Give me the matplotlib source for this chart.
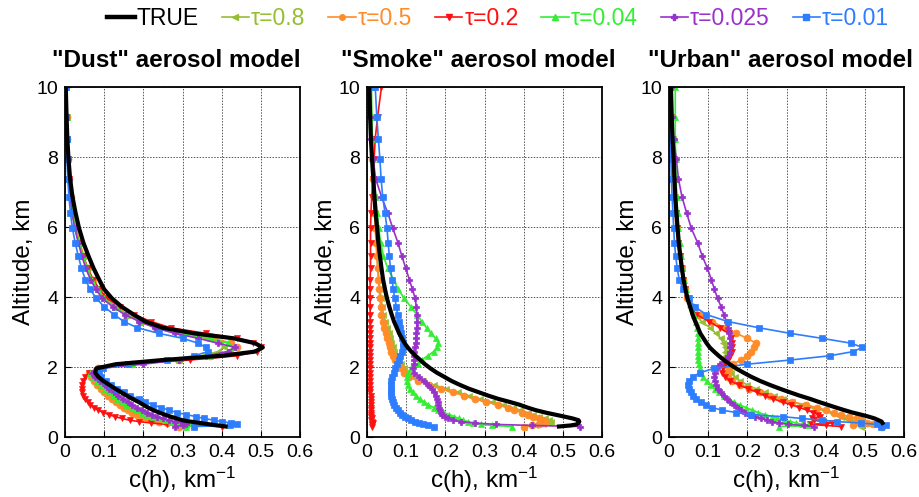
import numpy as np
import matplotlib
matplotlib.use("Agg")
import matplotlib.pyplot as plt
from matplotlib.lines import Line2D

plt.rcParams['font.family'] = ['Liberation Sans', 'DejaVu Sans']
plt.rcParams['mathtext.fontset'] = 'custom'
plt.rcParams['mathtext.rm'] = 'Liberation Sans'
plt.rcParams['mathtext.it'] = 'Liberation Sans'

nan = float('nan')

# altitude grid, km
alt = [0.30, 0.33, 0.36, 0.40, 0.44, 0.48, 0.53, 0.58, 0.64, 0.70,
       0.77, 0.84, 0.92, 1.00, 1.09, 1.18, 1.28, 1.38, 1.49, 1.60,
       1.72, 1.84, 1.96, 2.08, 2.20, 2.32, 2.44, 2.56, 2.68, 2.82,
       2.96, 3.12, 3.30, 3.50, 3.72, 3.96, 4.22, 4.50, 4.82, 5.17,
       5.55, 5.96, 6.40, 6.87, 7.38, 7.93, 8.52, 9.15, 10.0]

# ---------------- Dust ----------------
dust_true = [0.41, 0.39, 0.37, 0.345, 0.32, 0.30, 0.285, 0.27, 0.255, 0.24,
             0.225, 0.212, 0.20, 0.188, 0.172, 0.158, 0.143, 0.128, 0.113, 0.098,
             0.085, 0.077, 0.08, 0.13, 0.25, 0.40, 0.485, 0.505, 0.485, 0.43,
             0.33, 0.25, 0.205, 0.175, 0.145, 0.12, 0.10, 0.087, 0.073, 0.060,
             0.047, 0.036, 0.027, 0.019, 0.013, 0.009, 0.006, 0.004, 0.002]
dust_t08 = [0.30, 0.31, 0.29, 0.27, 0.255, 0.24, 0.225, 0.21, 0.195, 0.183,
            0.17, 0.158, 0.146, 0.136, 0.125, 0.115, 0.105, 0.095, 0.086, 0.077,
            0.068, 0.062, 0.08, 0.16, 0.28, 0.35, 0.39, 0.405, 0.395, 0.36,
            0.29, 0.23, 0.19, 0.155, 0.127, 0.10, 0.083, 0.068, 0.056, 0.046,
            0.036, 0.027, 0.020, 0.014, 0.010, 0.007, 0.005, 0.004, 0.002]
dust_t05 = [0.29, 0.30, 0.28, 0.26, 0.24, 0.225, 0.21, 0.197, 0.184, 0.172,
            0.16, 0.15, 0.14, 0.13, 0.12, 0.11, 0.10, 0.091, 0.082, 0.074,
            0.066, 0.062, 0.085, 0.17, 0.29, 0.37, 0.42, 0.44, 0.425, 0.38,
            0.30, 0.235, 0.195, 0.16, 0.131, 0.104, 0.086, 0.071, 0.058, 0.048,
            0.038, 0.029, 0.021, 0.015, 0.011, 0.008, 0.006, 0.004, 0.002]
dust_t02 = [0.40, 0.30, 0.26, 0.22, 0.19, 0.165, 0.145, 0.128, 0.112, 0.098,
            0.085, 0.074, 0.065, 0.058, 0.052, 0.047, 0.044, 0.043, 0.043, 0.046,
            0.052, 0.062, 0.09, 0.16, 0.32, 0.44, 0.49, 0.50, 0.48, 0.44,
            0.36, 0.27, 0.22, 0.175, 0.14, 0.108, 0.088, 0.072, 0.058, 0.046,
            0.035, 0.026, 0.019, 0.013, 0.009, 0.007, 0.005, 0.003, 0.002]
dust_t004 = [0.31, 0.33, 0.31, 0.29, 0.27, 0.255, 0.24, 0.225, 0.21, 0.196,
             0.182, 0.17, 0.157, 0.146, 0.134, 0.123, 0.112, 0.101, 0.091, 0.081,
             0.071, 0.065, 0.085, 0.17, 0.29, 0.37, 0.415, 0.43, 0.415, 0.37,
             0.295, 0.232, 0.192, 0.157, 0.128, 0.10, 0.083, 0.069, 0.057, 0.046,
             0.036, 0.027, 0.020, 0.014, 0.010, 0.007, 0.005, 0.004, 0.002]
dust_t0025 = [0.28, 0.30, 0.31, 0.30, 0.28, 0.265, 0.25, 0.236, 0.222, 0.21,
              0.196, 0.184, 0.172, 0.16, 0.148, 0.136, 0.124, 0.112, 0.101, 0.089,
              0.077, 0.068, 0.09, 0.20, 0.29, 0.36, 0.415, 0.435, 0.39, 0.34,
              0.28, 0.23, 0.19, 0.152, 0.122, 0.095, 0.079, 0.065, 0.053, 0.043,
              0.034, 0.025, 0.018, 0.013, 0.009, 0.007, 0.005, 0.003, 0.002]
dust_t001 = [0.33, 0.42, 0.44, 0.425, 0.40, 0.38, 0.355, 0.335, 0.31, 0.285,
             0.265, 0.245, 0.225, 0.205, 0.188, 0.165, 0.15, 0.133, 0.117, 0.105,
             0.092, 0.086, 0.098, 0.16, 0.26, 0.33, 0.365, 0.36, 0.34, 0.30,
             0.24, 0.185, 0.15, 0.125, 0.10, 0.08, 0.064, 0.052, 0.042, 0.034,
             0.026, 0.019, 0.014, 0.010, 0.007, 0.005, 0.004, 0.003, 0.002]

# ---------------- Smoke ----------------
smoke_true = [0.49, 0.52, 0.535, 0.54, 0.542, 0.54, 0.525, 0.505, 0.48, 0.455,
              0.43, 0.41, 0.39, 0.365, 0.335, 0.31, 0.285, 0.26, 0.237, 0.216,
              0.197, 0.178, 0.162, 0.148, 0.136, 0.124, 0.113, 0.104, 0.096, 0.089,
              0.082, 0.076, 0.069, 0.063, 0.057, 0.051, 0.046, 0.041, 0.037, 0.033,
              0.029, 0.026, 0.022, 0.019, 0.016, 0.013, 0.010, 0.008, 0.006]
smoke_t08 = [0.40, 0.43, 0.45, 0.465, 0.47, 0.465, 0.455, 0.44, 0.425, 0.41,
             0.39, 0.372, 0.348, 0.318, 0.288, 0.26, 0.232, 0.202, 0.17, 0.142,
             0.118, 0.103, 0.094, 0.087, 0.08, 0.075, 0.07, 0.066, 0.062, 0.058,
             0.055, 0.05, 0.046, 0.042, 0.039, 0.036, 0.033, 0.031, 0.028, 0.026,
             0.024, 0.022, 0.02, 0.018, 0.016, 0.014, 0.013, 0.012, 0.011]
smoke_t05 = [0.40, 0.42, 0.44, 0.45, 0.455, 0.45, 0.44, 0.425, 0.41, 0.395,
             0.375, 0.36, 0.335, 0.305, 0.275, 0.248, 0.22, 0.19, 0.158, 0.13,
             0.108, 0.094, 0.086, 0.079, 0.072, 0.067, 0.062, 0.058, 0.055, 0.051,
             0.048, 0.044, 0.04, 0.037, 0.035, 0.033, 0.031, 0.029, 0.027, 0.025,
             0.023, 0.021, 0.019, 0.017, 0.015, 0.013, 0.012, 0.011, 0.01]
smoke_t02 = [0.012, 0.014, 0.012, 0.015, 0.012, 0.011, 0.012, 0.010, 0.011, 0.010,
             0.010, 0.009, 0.009, 0.009, 0.009, 0.009, 0.008, 0.008, 0.008, 0.008,
             0.008, 0.008, 0.008, 0.008, 0.008, 0.008, 0.008, 0.008, 0.008, 0.008,
             0.008, 0.008, 0.008, 0.008, 0.008, 0.008, 0.008, 0.008, 0.009, 0.009,
             0.009, 0.009, 0.010, 0.012, 0.015, 0.018, 0.021, 0.027, 0.037]
smoke_t004 = [0.37, 0.32, 0.29, 0.27, 0.257, 0.245, 0.234, 0.223, 0.21, 0.196,
              0.182, 0.17, 0.157, 0.146, 0.135, 0.125, 0.117, 0.11, 0.105, 0.102,
              0.101, 0.104, 0.112, 0.13, 0.14, 0.155, 0.17, 0.178, 0.182, 0.175,
              0.163, 0.152, 0.14, 0.127, 0.112, 0.095, 0.08, 0.067, 0.053, 0.042,
              0.035, 0.03, 0.026, 0.022, 0.019, 0.016, 0.014, 0.012, 0.011]
smoke_t0025 = [0.545, 0.42, 0.33, 0.275, 0.24, 0.22, 0.207, 0.198, 0.192, 0.188,
               0.186, 0.184, 0.182, 0.18, 0.178, 0.176, 0.172, 0.165, 0.155, 0.145,
               0.133, 0.12, 0.118, 0.12, 0.12, 0.12, 0.121, 0.122, 0.124, 0.125,
               0.126, 0.127, 0.127, 0.127, 0.126, 0.123, 0.116, 0.108, 0.099, 0.089,
               0.079, 0.066, 0.053, 0.037, 0.022, 0.016, 0.009, 0.007, 0.006]
smoke_t001 = [0.17, 0.155, 0.143, 0.132, 0.122, 0.113, 0.104, 0.097, 0.09, 0.084,
              0.078, 0.073, 0.069, 0.066, 0.063, 0.061, 0.06, 0.06, 0.061, 0.062,
              0.065, 0.068, 0.072, 0.077, 0.081, 0.085, 0.089, 0.091, 0.092, 0.09,
              0.087, 0.084, 0.081, 0.078, 0.075, 0.071, 0.067, 0.064, 0.06, 0.057,
              0.054, 0.051, 0.046, 0.04, 0.036, 0.033, 0.029, 0.025, 0.021]

# ---------------- Urban ----------------
urban_true = [nan, nan, nan, 0.545, 0.543, 0.535, 0.525, 0.51, 0.49, 0.468,
              0.447, 0.427, 0.405, 0.383, 0.36, 0.334, 0.308, 0.283, 0.257, 0.233,
              0.21, 0.19, 0.171, 0.155, 0.14, 0.127, 0.115, 0.104, 0.096, 0.088,
              0.08, 0.074, 0.067, 0.06, 0.054, 0.047, 0.042, 0.037, 0.033, 0.029,
              0.025, 0.022, 0.019, 0.016, 0.014, 0.012, 0.009, 0.007, 0.005]
urban_t08 = [0.49, 0.49, 0.485, 0.478, 0.47, 0.462, 0.45, 0.44, 0.43, 0.417,
             0.395, 0.37, 0.34, 0.315, 0.29, 0.268, 0.245, 0.222, 0.2, 0.182,
             0.168, 0.158, 0.152, 0.148, 0.145, 0.144, 0.144, 0.143, 0.139, 0.132,
             0.12, 0.105, 0.083, 0.066, 0.054, 0.046, 0.041, 0.036, 0.032, 0.028,
             0.024, 0.021, 0.018, 0.016, 0.013, 0.011, 0.009, 0.007, 0.005]
urban_t05 = [0.545, 0.47, 0.52, 0.505, 0.495, 0.49, 0.48, 0.46, 0.44, 0.42,
             0.40, 0.378, 0.35, 0.315, 0.285, 0.258, 0.232, 0.205, 0.182, 0.16,
             0.15, 0.147, 0.152, 0.163, 0.183, 0.2, 0.21, 0.218, 0.222, 0.2,
             0.172, 0.142, 0.11, 0.08, 0.06, 0.047, 0.04, 0.035, 0.03, 0.026,
             0.022, 0.018, 0.015, 0.012, 0.01, 0.008, 0.006, 0.005, 0.004]
urban_t02 = [0.44, 0.40, 0.36, 0.415, 0.39, 0.37, 0.365, 0.385, 0.38, 0.368,
             0.352, 0.333, 0.312, 0.29, 0.266, 0.245, 0.224, 0.202, 0.178, 0.157,
             0.142, 0.135, 0.137, 0.142, 0.15, 0.156, 0.16, 0.161, 0.161, 0.159,
             0.152, 0.13, 0.102, 0.07, 0.056, 0.046, 0.04, 0.035, 0.031, 0.027,
             0.023, 0.02, 0.017, 0.014, 0.012, 0.01, 0.008, 0.006, 0.005]
urban_t004 = [0.28, 0.355, 0.34, 0.325, 0.31, 0.293, 0.277, 0.262, 0.245, 0.228,
              0.212, 0.197, 0.18, 0.165, 0.152, 0.14, 0.128, 0.117, 0.106, 0.096,
              0.087, 0.081, 0.078, 0.076, 0.075, 0.075, 0.075, 0.075, 0.075, 0.075,
              0.074, 0.072, 0.068, 0.063, 0.058, 0.051, 0.044, 0.039, 0.034, 0.03,
              0.027, 0.024, 0.022, 0.02, 0.018, 0.017, 0.016, 0.016, 0.016]
urban_t0025 = [0.37, 0.345, 0.305, 0.28, 0.263, 0.25, 0.235, 0.22, 0.207, 0.195,
               0.184, 0.175, 0.166, 0.157, 0.148, 0.14, 0.133, 0.126, 0.121, 0.118,
               0.116, 0.117, 0.122, 0.13, 0.142, 0.15, 0.155, 0.157, 0.157, 0.155,
               0.153, 0.15, 0.147, 0.14, 0.133, 0.124, 0.116, 0.108, 0.098, 0.085,
               0.073, 0.057, 0.045, 0.033, 0.024, 0.019, 0.012, 0.008, 0.005]
urban_t001 = [0.54, 0.555, 0.53, 0.49, 0.43, 0.39, 0.34, 0.29, 0.21, 0.17,
              0.135, 0.11, 0.095, 0.082, 0.07, 0.062, 0.055, 0.05, 0.049, 0.052,
              0.06, 0.08, 0.115, 0.2, 0.31, 0.41, 0.47, 0.494, 0.465, 0.39,
              0.31, 0.23, 0.15, 0.095, 0.066, 0.05, 0.036, 0.026, 0.021, 0.017,
              0.014, 0.012, 0.01, 0.008, 0.006, 0.005, 0.004, 0.003, 0.002]

titles = ['"Dust" aerosol model', '"Smoke" aerosol model', '"Urban" aerosol model']
tau_labels = ['\u03c4=0.8', '\u03c4=0.5', '\u03c4=0.2', '\u03c4=0.04', '\u03c4=0.025', '\u03c4=0.01']
colors = ['#96be32', '#ff8c28', '#ff1010', '#33ee33', '#9932cc', '#2d7dff']
markers = ['<', 'o', 'v', '^', 'P', 's']
msizes = [5, 5, 5, 5, 5, 4.5]

panels = [
    (dust_true, [dust_t08, dust_t05, dust_t02, dust_t004, dust_t0025, dust_t001]),
    (smoke_true, [smoke_t08, smoke_t05, smoke_t02, smoke_t004, smoke_t0025, smoke_t001]),
    (urban_true, [urban_t08, urban_t05, urban_t02, urban_t004, urban_t0025, urban_t001]),
]

W, H = 919, 497
fig = plt.figure(figsize=(W / 100, H / 100), dpi=100)
lefts = [65, 367, 669]
aw, ah = 235, 350
bottom_px = 437

for i, (truth, series) in enumerate(panels):
    ax = fig.add_axes([lefts[i] / W, (H - bottom_px) / H, aw / W, ah / H])
    for s, c, m, ms in zip(series, colors, markers, msizes):
        ax.plot(s, alt, color=c, marker=m, markersize=ms, linewidth=1.2,
                markeredgewidth=0.5, zorder=2)
    ax.plot(truth, alt, color='black', linewidth=3.0, zorder=3)
    ax.set_xlim(0, 0.6)
    ax.set_ylim(0, 10)
    ax.set_xticks([0, 0.1, 0.2, 0.3, 0.4, 0.5, 0.6])
    ax.set_xticklabels(['0', '0.1', '0.2', '0.3', '0.4', '0.5', '0.6'])
    ax.set_yticks([0, 2, 4, 6, 8, 10])
    ax.grid(True, color='#555555', linestyle=(0, (1.5, 1.5)), linewidth=0.7)
    ax.set_axisbelow(True)
    ax.tick_params(direction='in', length=4, labelsize=14, pad=5)
    for sp in ax.spines.values():
        sp.set_linewidth(1.3)
    ax.set_xlabel('c(h), km$^{-1}$', fontsize=17.5, labelpad=3)
    ax.set_ylabel('Altitude, km', fontsize=17.5, labelpad=1)
    ax.text(0.475, 1.075, titles[i], transform=ax.transAxes, ha='center',
            va='center', fontsize=17.5, fontweight='bold')

handles = [Line2D([], [], color='black', linewidth=3.2)]
for c, m in zip(colors, markers):
    handles.append(Line2D([], [], color=c, marker=m, markersize=4, linewidth=1.2))
labels = ['TRUE'] + tau_labels
leg = fig.legend(handles, labels, loc='center', bbox_to_anchor=(0.542, 0.963),
                 ncol=7, frameon=False, fontsize=16.5, handlelength=1.2,
                 handletextpad=0.08, columnspacing=1.0)
for t, c in zip(leg.get_texts(), ['black'] + colors):
    t.set_color(c)

fig.savefig('out.png', dpi=100)
